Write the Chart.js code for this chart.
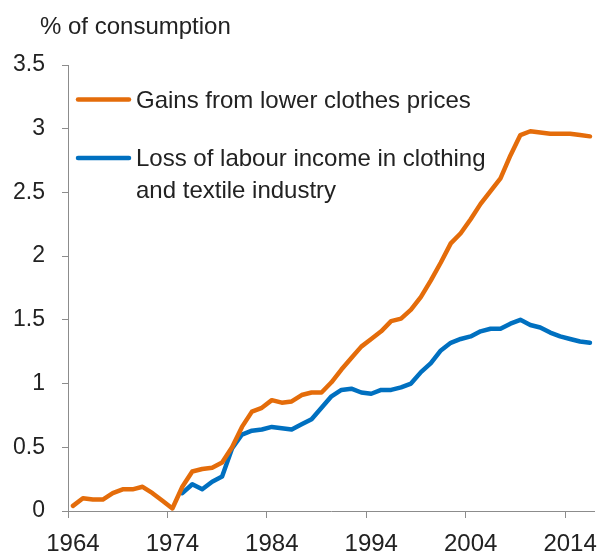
<!DOCTYPE html>
<html>
<head>
<meta charset="utf-8">
<script src="https://cdn.jsdelivr.net/npm/chart.js@4/dist/chart.umd.min.js"></script>
<style>
html,body{margin:0;padding:0;background:#fff;}
canvas{display:block;}
</style>
</head>
<body>
<canvas id="c" width="602" height="554"></canvas>
<script>
const years = ['1964','1965','1966','1967','1968','1969','1970','1971','1972','1973',
  '1974','1975','1976','1977','1978','1979','1980','1981','1982','1983',
  '1984','1985','1986','1987','1988','1989','1990','1991','1992','1993',
  '1994','1995','1996','1997','1998','1999','2000','2001','2002','2003',
  '2004','2005','2006','2007','2008','2009','2010','2011','2012','2013',
  '2014','2015','2016'];

const gainsLabel = 'Gains from lower clothes prices';
const gains = [0.04,0.10,0.09,0.09,0.14,0.17,0.17,0.19,0.14,0.08,
  0.02,0.19,0.31,0.33,0.34,0.38,0.50,0.66,0.78,0.81,
  0.87,0.85,0.86,0.91,0.93,0.93,1.01,1.11,1.20,1.29,
  1.35,1.41,1.49,1.51,1.58,1.68,1.81,1.95,2.10,2.18,
  2.29,2.41,2.51,2.61,2.79,2.95,2.98,2.97,2.96,2.96,
  2.96,2.95,2.94];

const lossLabel = ['Loss of labour income in clothing', 'and textile industry'];
const loss = [null,null,null,null,null,null,null,null,null,null,
  null,0.14,0.21,0.17,0.23,0.27,0.49,0.60,0.63,0.64,
  0.66,0.65,0.64,0.68,0.72,0.81,0.90,0.95,0.96,0.93,
  0.92,0.95,0.95,0.97,1.00,1.09,1.16,1.26,1.32,1.35,
  1.37,1.41,1.43,1.43,1.47,1.50,1.46,1.44,1.40,1.37,
  1.35,1.33,1.32];

const yTitle = '% of consumption';
const xTickEvery = 10;

const ORANGE = '#E46C0A';
const BLUE = '#0070C0';
const AXIS = '#8C8C8C';
const TEXT = '#222222';
const FONT = '"Liberation Sans", Arial, sans-serif';

const overlay = {
  id: 'overlay',
  afterDraw(chart) {
    const ctx = chart.ctx;
    ctx.save();
    ctx.fillStyle = TEXT;
    ctx.font = '24px ' + FONT;
    ctx.textBaseline = 'alphabetic';
    ctx.textAlign = 'left';
    ctx.fillText(yTitle, 40, 34);
    // legend
    ctx.lineWidth = 4.5;
    ctx.lineCap = 'round';
    ctx.strokeStyle = ORANGE;
    ctx.beginPath(); ctx.moveTo(78, 99.5); ctx.lineTo(129, 99.5); ctx.stroke();
    ctx.fillText(gainsLabel, 136, 107.5);
    ctx.strokeStyle = BLUE;
    ctx.beginPath(); ctx.moveTo(78, 158); ctx.lineTo(129, 158); ctx.stroke();
    ctx.fillText(lossLabel[0], 136, 166);
    ctx.fillText(lossLabel[1], 136, 198);
    ctx.restore();
  }
};

new Chart(document.getElementById('c'), {
  type: 'line',
  data: {
    labels: years,
    datasets: [
      { label: gainsLabel, data: gains, borderColor: ORANGE, backgroundColor: ORANGE,
        borderWidth: 4.5, pointRadius: 0, tension: 0, borderJoinStyle: 'round', borderCapStyle: 'round' },
      { label: lossLabel.join(' '), data: loss, borderColor: BLUE, backgroundColor: BLUE,
        borderWidth: 4.5, pointRadius: 0, tension: 0, borderJoinStyle: 'round', borderCapStyle: 'round' }
    ]
  },
  options: {
    responsive: false,
    devicePixelRatio: 1,
    animation: false,
    layout: { padding: { left: 0, right: 4, top: 65, bottom: 0 } },
    plugins: { legend: { display: false }, tooltip: { enabled: false }, title: { display: false } },
    scales: {
      x: {
        type: 'category',
        offset: true,
        grid: {
          offset: true,
          drawOnChartArea: false,
          drawTicks: true,
          tickLength: 7,
          color: AXIS,
          tickColor: (c) => (c.index % xTickEvery === 0 ? AXIS : 'rgba(0,0,0,0)')
        },
        border: { display: true, color: AXIS, width: 1 },
        ticks: {
          autoSkip: false,
          maxRotation: 0,
          minRotation: 0,
          padding: 12,
          color: TEXT,
          font: { family: FONT, size: 24 },
          callback: function (v, i) { return i % xTickEvery === 0 ? this.getLabelForValue(v) : ''; }
        },
        afterFit: (s) => { s.height = 43; }
      },
      y: {
        min: 0,
        max: 3.5,
        grid: { drawOnChartArea: false, drawTicks: true, tickLength: 6, color: AXIS },
        border: { display: true, color: AXIS, width: 1 },
        ticks: {
          stepSize: 0.5,
          padding: 17,
          color: TEXT,
          font: { family: FONT, size: 23 },
          callback: (v) => String(v)
        },
        afterFit: (s) => { s.width = 68; }
      }
    }
  },
  plugins: [overlay]
});
</script>
</body>
</html>
